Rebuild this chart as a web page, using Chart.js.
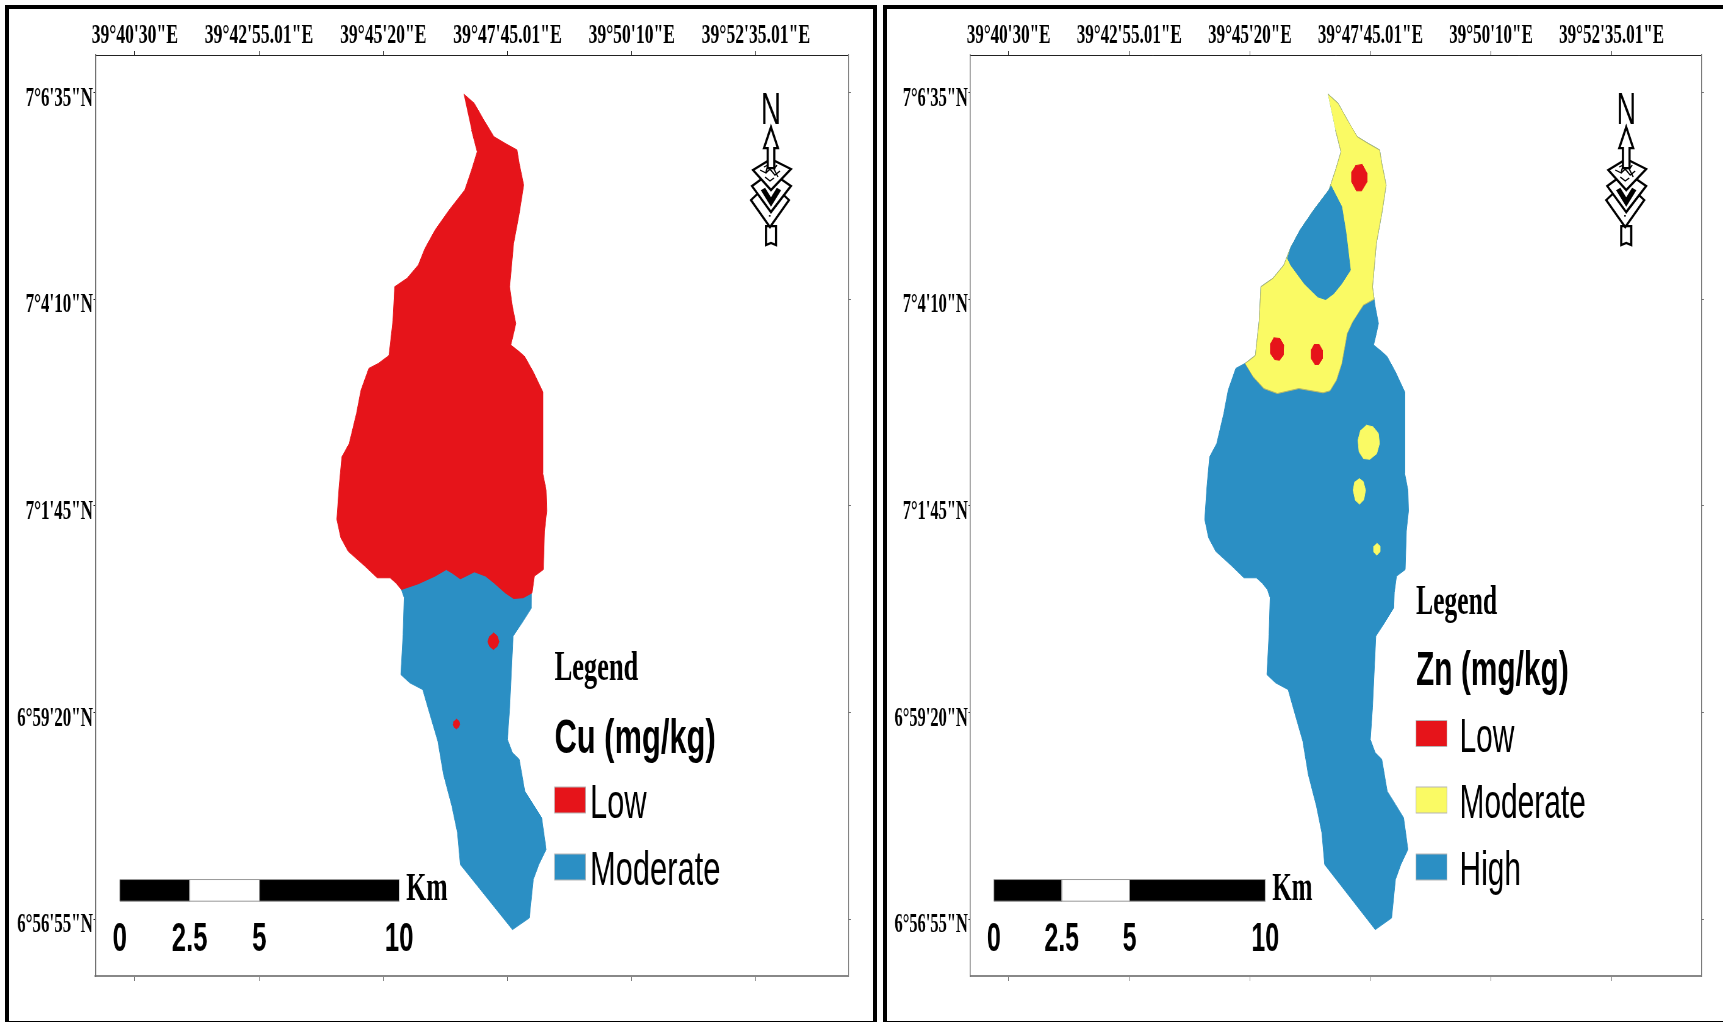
<!DOCTYPE html>
<html>
<head>
<meta charset="utf-8">
<title>Cu and Zn maps</title>
<script src="https://cdn.jsdelivr.net/npm/chart.js@4"></script>
<style>
  html, body { margin: 0; padding: 0; background: #fff; }
  body { position: relative; width: 1723px; height: 1022px; overflow: hidden; }
  .frame { position: absolute; box-sizing: border-box; border: 4px solid #000; top: 5px; height: 1020px; }
  #frameCu { left: 5px; width: 872px; }
  #frameZn { left: 883px; width: 860px; }
  canvas { position: absolute; top: 0; transform-origin: 0 0; }
</style>
</head>
<body>
<div class="frame" id="frameCu"></div>
<div class="frame" id="frameZn"></div>
<canvas id="mapCu"></canvas>
<canvas id="mapZn"></canvas>
<script>
// all map values are arc seconds: lon past 39 deg, lat past 6 deg
const lonTicks = [2430, 2575, 2720, 2865, 3010, 3155];
const lonLabels = ['39°40\'30"E', '39°42\'55.01"E', '39°45\'20"E', '39°47\'45.01"E', '39°50\'10"E', '39°52\'35.01"E'];
const latTicks = [3995, 3850, 3705, 3560, 3415];
const latLabels = ['7°6\'35"N', '7°4\'10"N', '7°1\'45"N', '6°59\'20"N', '6°56\'55"N'];

// basin outline, clockwise from the northern tip
const eastUpper = [[2813.8,3994.1],[2826.3,3987.5],[2837.4,3975.8],[2849.2,3964.1],[2862.3,3959.4],[2876.1,3954.8],[2878.7,3945.4],[2883.9,3930.2],[2878.7,3910.3],[2872.1,3889.2],[2867.5,3858.8],[2869.5,3850.1]];
const eastMiddle = [[2870.8,3844.8],[2874.7,3833.1],[2872.1,3826],[2868.8,3817.9],[2878.7,3813.2],[2885.2,3809.7],[2895.1,3799.1],[2906.2,3785.1],[2906.2,3727.8],[2910.1,3716.1],[2910.8,3701.4],[2908.2,3687.4],[2906.8,3660.4],[2896.4,3655.8],[2893.7,3644.1]];
const southLobe = [[2893.1,3633.5],[2882,3623],[2871.5,3613.6],[2867.5,3563.3],[2864.9,3541.1],[2870.8,3531.7],[2878.7,3527.1],[2885.2,3504.8],[2895.1,3495.5],[2904.9,3486.1],[2910.1,3463.9],[2901.6,3453.4],[2895.1,3442.8],[2890.5,3415.9],[2870.8,3407.7],[2852.5,3421.4],[2829.6,3438.6],[2809.9,3453.4],[2806.6,3475.6],[2800.1,3494.3],[2790.3,3516.5],[2783.7,3539.9],[2773.9,3559.8],[2766,3576.2],[2751,3580.9],[2740.5,3586.7],[2743.1,3614.8],[2744.4,3640.6],[2741.1,3646.4]];
const westMiddle = [[2734.6,3651.1],[2728,3654.6],[2713,3654.6],[2698.6,3662.8],[2678.9,3673.3],[2670.4,3682.7],[2665.8,3695.5],[2668.4,3718.4],[2671.7,3739.5],[2680.2,3748.8],[2688.7,3769.9],[2694,3786.3],[2703.1,3801.5],[2714.3,3805]];
const westLower = [[2724.8,3809.7],[2726.7,3810.8],[2731.3,3835.4],[2733.3,3858.8],[2747.7,3864.7],[2760.8,3874]];
const westPatchEdge = [[2768.6,3885.7],[2780.4,3898.6],[2796.8,3912.6],[2815.1,3926.7]];
const westTip = [[2823,3940.7],[2829.6,3953.6],[2823,3968.8]];

// Cu classes
const cuBoundary = [[2883.3,3640.6],[2872.1,3640.1],[2862.3,3644.1],[2849.2,3651.1],[2839.4,3655.8],[2826.3,3658.8],[2816.5,3655.8],[2809.9,3653.9],[2800.1,3658.1],[2793.5,3660.4],[2780.4,3655.8],[2760.8,3650.4]];
const cuModerateCap = [[2741,3672],[2893.5,3672]];
const cuLowSpotA = [[2848.5,3616],[2853.1,3613.6],[2855.1,3609.7],[2853.1,3606.6],[2848.5,3604.3],[2844,3606.6],[2842,3609.7],[2844,3613.6]];
const cuLowSpotB = [[2805.3,3555.4],[2808.6,3553.7],[2809.2,3551.6],[2807.9,3549.8],[2805.3,3548.6],[2802.7,3549.8],[2801.4,3551.6],[2802,3553.7]];

// Zn classes
const znModerateEdge = [[2856.5,3845.9],[2843.6,3834.2],[2837.1,3826],[2830.6,3805],[2824.2,3793.3],[2816.4,3785.8],[2808,3784.4],[2778.9,3787.4],[2753.1,3783.9],[2736.9,3787.4],[2724,3795.6],[2714.3,3805]];
const znHighPatchEast = [[2817.7,3929.7],[2830.6,3915],[2835.8,3896.3],[2841,3870.5],[2830.6,3861.1],[2820.9,3854.1],[2811.2,3849.9],[2801.6,3851.8],[2785.4,3861.1],[2769.2,3874],[2765,3879]];
const znLowSpotA = [[2846.8,3943.8],[2855.2,3944.7],[2861,3938.4],[2861,3932.5],[2854.5,3926.2],[2848.1,3926.2],[2842.3,3932.5],[2842.3,3939.5]];
const znLowSpotB = [[2748.6,3823],[2756.3,3822.5],[2760.8,3817.9],[2760.2,3810.8],[2755.7,3807.3],[2749.9,3807.8],[2744.7,3812],[2744.7,3819]];
const znLowSpotC = [[2797,3818.3],[2803.5,3818.3],[2807.4,3814.3],[2807.4,3808.5],[2802.8,3804.3],[2798.3,3804.3],[2793.8,3808.5],[2793.8,3814.8]];
const znModSpotA = [[2859.7,3761.7],[2868.1,3760.5],[2874.6,3755.9],[2875.9,3748.8],[2872.6,3741.8],[2864.2,3737.8],[2856.5,3738.3],[2851.3,3743],[2850,3751.2],[2853.2,3758.2]];
const znModSpotB = [[2851.3,3724.3],[2856.5,3722],[2859.1,3716.1],[2857.1,3709.5],[2851.9,3706.3],[2846.8,3709.1],[2844.2,3716.1],[2846.1,3722]];
const znModSpotC = [[2872.6,3678.9],[2876.5,3676.8],[2876.5,3672.9],[2872.6,3670.5],[2868.8,3672.9],[2868.8,3676.8]];

// scale bar
const barStopLabels = ['0', '2.5', '5', '10'];
const barStopLons = [2412.4, 2493.9, 2575.4, 2738.5];
const barLats = [3442.8, 3427.6];

const cuLegend = ['Low', 'Moderate'];
const znLegend = ['Low', 'Moderate', 'High'];

const RED = '#e6141a';
const BLUE = '#2b8fc4';
const YELLOW = '#fafa64';
const AXIS = '#6e6e6e';
const SERIF = '"Liberation Serif"';
const SANS = '"Liberation Sans"';

function area(points, color, edge) {
    return {
        data: points.map(p => ({ x: p[0], y: p[1] })),
        showLine: true,
        fill: 'shape',
        tension: 0,
        pointRadius: 0,
        borderWidth: 1,
        borderColor: edge || color,
        backgroundColor: color
    };
}

function barSegments() {
    const [top, bottom] = barLats;
    const box = (a, b) => [[barStopLons[a], top], [barStopLons[b], top], [barStopLons[b], bottom], [barStopLons[a], bottom], [barStopLons[a], top]];
    return [
        area(box(0, 1), '#000', '#999'),
        area(box(1, 2), '#fff', '#999'),
        area(box(2, 3), '#000', '#999')
    ];
}

// legend, scale bar text and north arrow
const mapOverlay = {
    id: 'mapOverlay',
    afterDraw(chart, args, opts) {
        const ctx = chart.ctx;
        const k = opts.k;
        const X = px => (px - opts.left) / k;
        const xs = chart.scales.x;
        const ys = chart.scales.y;
        ctx.save();
        ctx.textBaseline = 'alphabetic';
        ctx.textAlign = 'left';
        ctx.fillStyle = '#000';

        ctx.font = 'bold 42px ' + SERIF;
        ctx.fillText('Legend', X(opts.legendX), opts.legendY);
        ctx.font = 'bold 49px ' + SANS;
        ctx.fillText(opts.title, X(opts.legendX), opts.titleY);

        ctx.font = '49px ' + SANS;
        opts.items.forEach((label, i) => {
            const y = opts.itemY[i];
            ctx.fillStyle = opts.colors[i];
            ctx.fillRect(X(opts.legendX), y, 31 / k, 26);
            ctx.strokeStyle = '#b5b5b5';
            ctx.lineWidth = 1;
            ctx.strokeRect(X(opts.legendX), y, 31 / k, 26);
            ctx.fillStyle = '#000';
            ctx.fillText(label, X(opts.itemTextX), y + 31);
        });

        // scale bar
        const barTop = ys.getPixelForValue(barLats[0]);
        ctx.font = 'bold 41px ' + SANS;
        ctx.textAlign = 'center';
        barStopLabels.forEach((label, i) => {
            ctx.fillText(label, xs.getPixelForValue(barStopLons[i]), barTop + 71);
        });
        ctx.textAlign = 'left';
        ctx.font = 'bold 41px ' + SERIF;
        ctx.fillText('Km', xs.getPixelForValue(barStopLons[3]) + 7 / k, barTop + 20);

        // north arrow
        const cx = xs.getPixelForValue(3172.5);
        const cy = ys.getPixelForValue(3994.8);
        ctx.font = '44px ' + SANS;
        ctx.textAlign = 'center';
        ctx.fillText('N', cx, cy + 31);
        ctx.translate(cx, cy);
        ctx.scale(1 / k, 1);
        ctx.strokeStyle = '#000';
        ctx.lineWidth = 2.2;
        const poly = (pts, fill) => {
            ctx.beginPath();
            pts.forEach((p, i) => (i ? ctx.lineTo(p[0], p[1]) : ctx.moveTo(p[0], p[1])));
            ctx.closePath();
            ctx.fillStyle = fill;
            ctx.fill();
            ctx.stroke();
        };
        const line = pts => {
            ctx.beginPath();
            pts.forEach((p, i) => (i ? ctx.lineTo(p[0], p[1]) : ctx.moveTo(p[0], p[1])));
            ctx.stroke();
        };
        poly([[-5, 133], [5, 133], [5, 152], [0, 150], [-5, 152]], '#fff');
        poly([[-1, 89], [18, 107], [-1, 134], [-20, 107]], '#fff');
        ctx.fillStyle = '#000';
        [[-8, 108], [-4, 114], [4, 112], [8, 106], [-2, 122], [1, 104], [-1, 116]].forEach(p => ctx.fillRect(p[0], p[1], 1.6, 1.6));
        poly([[0, 79], [20, 93], [0, 119], [-19, 93]], '#fff');
        ctx.lineWidth = 5;
        line([[-8, 96], [0, 109], [8, 96]]);
        ctx.lineWidth = 2.2;
        poly([[0, 66], [20, 76], [0, 97], [-18, 77]], '#fff');
        ctx.lineWidth = 1.3;
        line([[-11, 77], [-5, 80], [-1, 76], [4, 82], [9, 78]]);
        line([[-6, 84], [-1, 88], [3, 85]]);
        line([[6, 72], [3, 76], [7, 84]]);
        line([[-7, 74], [-3, 72], [-5, 79]]);
        ctx.lineWidth = 2.2;
        poly([[0, 34], [7, 55], [3.3, 55], [3.3, 75], [-3.3, 75], [-3.3, 55], [-7, 55]], '#fff');
        ctx.restore();
    }
};

function buildMap(id, cfg) {
    const canvas = document.getElementById(id);
    const logicalW = Math.round(cfg.width / cfg.k);
    canvas.width = logicalW;
    canvas.height = 1022;
    canvas.style.left = cfg.left + 'px';
    canvas.style.transform = 'scaleX(' + cfg.k + ')';

    const leftW = (cfg.plotLeft - cfg.left) / cfg.k;
    const rightW = logicalW - (cfg.plotRight - cfg.left) / cfg.k;
    const lonRange = { min: 2384, max: 3263 };
    const latRange = { min: 3375.1, max: 4021.5 };
    const setLon = s => { s.ticks = lonTicks.map(v => ({ value: v })); };
    const setLat = s => { s.ticks = latTicks.map(v => ({ value: v })); };
    const blank = () => '';

    return new Chart(canvas, {
        type: 'scatter',
        data: { datasets: cfg.datasets },
        plugins: [mapOverlay],
        options: {
            responsive: false,
            animation: false,
            devicePixelRatio: 1,
            layout: { padding: 0 },
            events: [],
            plugins: {
                legend: { display: false },
                tooltip: { enabled: false },
                mapOverlay: cfg.overlay
            },
            scales: {
                x: {
                    type: 'linear', position: 'top', ...lonRange,
                    afterBuildTicks: setLon,
                    afterFit: s => { s.height = 55; },
                    grid: { drawOnChartArea: false, tickLength: 4, tickColor: '#222' },
                    border: { color: '#222', width: 1 },
                    ticks: {
                        autoSkip: false, maxRotation: 0, padding: -2, color: '#000',
                        font: { family: SERIF, size: 28, weight: 'bold' },
                        callback: (v, i) => lonLabels[i]
                    }
                },
                xb: {
                    type: 'linear', position: 'bottom', ...lonRange,
                    afterBuildTicks: setLon,
                    afterFit: s => { s.height = 46; },
                    grid: { drawOnChartArea: false, tickLength: 5, tickColor: AXIS },
                    border: { color: '#888', width: 2 },
                    ticks: { autoSkip: false, maxRotation: 0, callback: blank }
                },
                y: {
                    type: 'linear', position: 'left', ...latRange,
                    afterBuildTicks: setLat,
                    afterFit: s => { s.width = leftW; },
                    grid: { drawOnChartArea: false, tickLength: 3, tickColor: '#222' },
                    border: { color: AXIS, width: 1.5 },
                    ticks: {
                        autoSkip: false, padding: 1, color: '#000', labelOffset: 6,
                        font: { family: SERIF, size: 27, weight: 'bold' },
                        callback: (v, i) => latLabels[i]
                    }
                },
                yr: {
                    type: 'linear', position: 'right', ...latRange,
                    afterBuildTicks: setLat,
                    afterFit: s => { s.width = rightW; },
                    grid: { drawOnChartArea: false, tickLength: 4, tickColor: AXIS },
                    border: { color: AXIS, width: 1.5 },
                    ticks: { autoSkip: false, callback: blank }
                }
            }
        }
    });
}

// first dataset is painted on top
buildMap('mapCu', {
    left: 0, width: 880, k: 0.63, plotLeft: 95.4, plotRight: 848.5,
    datasets: [
        ...barSegments(),
        area(cuLowSpotA, RED),
        area(cuLowSpotB, RED),
        area([...eastUpper, ...eastMiddle, ...cuBoundary, [2741.1, 3646.4], ...westMiddle, ...westLower, ...westPatchEdge, ...westTip], RED),
        area([...southLobe, ...cuModerateCap], BLUE)
    ],
    overlay: {
        k: 0.63, left: 0, legendX: 554.5, legendY: 680, title: 'Cu (mg/kg)', titleY: 753, itemTextX: 590,
        items: cuLegend, colors: [RED, BLUE], itemY: [787, 854]
    }
});

buildMap('mapZn', {
    left: 880, width: 843, k: 0.61, plotLeft: 970.3, plotRight: 1701.5,
    datasets: [
        ...barSegments(),
        area(znLowSpotA, RED),
        area(znLowSpotB, RED),
        area(znLowSpotC, RED),
        area(znModSpotA, YELLOW),
        area(znModSpotB, YELLOW),
        area(znModSpotC, YELLOW),
        area([...westPatchEdge, ...znHighPatchEast], BLUE),
        area([...eastUpper, ...znModerateEdge, ...westLower, ...westPatchEdge, ...westTip], YELLOW, '#b9b96a'),
        area([...eastUpper, ...eastMiddle, ...southLobe, ...westMiddle, ...westLower, ...westPatchEdge, ...westTip], BLUE)
    ],
    overlay: {
        k: 0.61, left: 880, legendX: 1416, legendY: 614, title: 'Zn (mg/kg)', titleY: 685, itemTextX: 1459.5,
        items: znLegend, colors: [RED, YELLOW, BLUE], itemY: [720.5, 787, 854]
    }
});
</script>
</body>
</html>
